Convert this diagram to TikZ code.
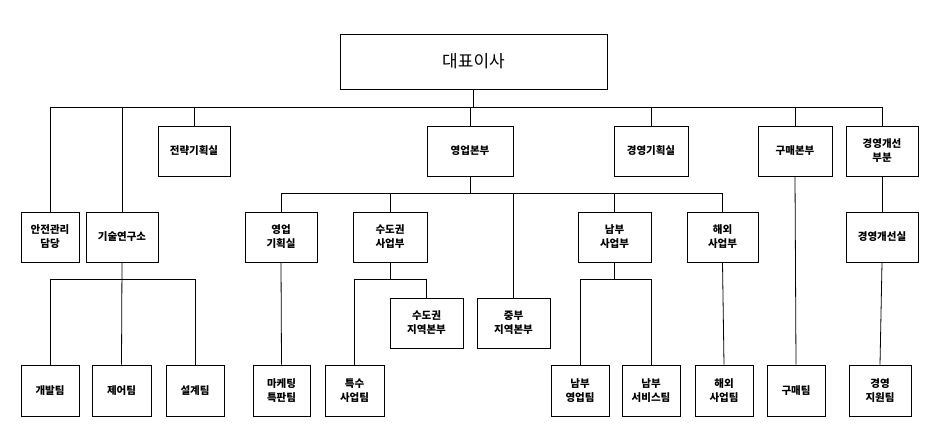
\documentclass[tikz,border=0pt]{standalone}
\usepackage{fontspec}
\setmainfont{Noto Sans CJK KR}
\usetikzlibrary{positioning,calc}
\tikzset{
  unit/.style={draw,thick,align=center,inner sep=1pt,font=\fontsize{10.5}{14}\selectfont\bfseries},
  mid/.style={unit,minimum width=72pt,minimum height=50pt},
  small/.style={unit,minimum width=58pt,minimum height=51pt},
  wire/.style={thick}
}
\begin{document}
\begin{tikzpicture}[x=1pt,y=-1pt]
\useasboundingbox (0,0) rectangle (926,425);
%---------------------------------------------------------------- top
\node[draw,thick,minimum width=267pt,minimum height=55pt,font=\fontsize{17}{20}\selectfont] (ceo) at (473.5,61.5) {대표이사};
\coordinate (topbar) at (0,107);
\coordinate (salesbar) at (0,193);
\coordinate (subbar) at (0,279);
%---------------------------------------------------------------- level 2
\node[mid,minimum width=72pt] (strategy) at (194,151) {전략기획실};
\node[mid,minimum width=86pt] (sales) at (470,151) {영업본부};
\node[mid,minimum width=74pt] (mgmtplan) at (651,151) {경영기획실};
\node[mid,minimum width=74pt] (purchase) at (795,151) {구매본부};
\node[mid] (improve) at (882,151) {경영개선\\부분};
%---------------------------------------------------------------- level 3
\node[unit,minimum width=58pt,minimum height=50pt] (safety) at (50,237) {안전관리\\담당};
\node[mid] (research) at (122,237) {기술연구소};
\node[mid] (salesplan) at (281,237) {영업\\기획실};
\node[mid,minimum width=74pt] (capital) at (390,237) {수도권\\사업부};
\node[mid,minimum width=73pt] (south) at (614.5,237) {남부\\사업부};
\node[mid,minimum width=71pt] (overseas) at (722.5,237) {해외\\사업부};
\node[mid] (improveoff) at (882,237) {경영개선실};
\node[mid,minimum width=73pt] (capregion) at (426.5,323) {수도권\\지역본부};
\node[mid,minimum width=73pt] (central) at (513.5,323) {중부\\지역본부};
%---------------------------------------------------------------- teams
\node[small] (dev) at (50,390.5) {개발팀};
\node[small,minimum width=59pt] (control) at (121.5,390.5) {제어팀};
\node[small] (design) at (195,390.5) {설계팀};
\node[small,minimum width=57pt] (marketing) at (281.5,390.5) {마케팅\\특판팀};
\node[small,minimum width=59pt] (special) at (354.5,390.5) {특수\\사업팀};
\node[small] (southsales) at (580,390.5) {남부\\영업팀};
\node[small] (southservice) at (651,390.5) {남부\\서비스팀};
\node[small] (overseasteam) at (724,390.5) {해외\\사업팀};
\node[small] (purchaseteam) at (796,390.5) {구매팀};
\node[small,minimum width=62pt] (support) at (880,390.5) {경영\\지원팀};
%---------------------------------------------------------------- wires
\draw[wire] (ceo.south) -- (ceo.south |- topbar);
\draw[wire] (safety.north) -- (safety.north |- topbar) -| (improve.north);
\foreach \n in {research,strategy,sales,mgmtplan,purchase}
  \draw[wire] (\n.north) -- (\n.north |- topbar);
\draw[wire] (sales.south) -- (sales.south |- salesbar);
\draw[wire] (salesplan.north) -- (salesplan.north |- salesbar) -| (overseas.north);
\draw[wire] (capital.north) -- (capital.north |- salesbar);
\draw[wire] (south.north) -- (south.north |- salesbar);
\draw[wire] (central.north) -- (central.north |- salesbar);
\draw[wire] (research.south) -- (control.north);
\draw[wire] (dev.north) -- (dev.north |- subbar) -| (design.north);
\draw[wire] (capital.south) -- (capital.south |- subbar);
\draw[wire] (special.north) -- (special.north |- subbar) -| (capregion.north);
\draw[wire] (south.south) -- (south.south |- subbar);
\draw[wire] (southsales.north) -- (southsales.north |- subbar) -| (southservice.north);
\draw[wire] (salesplan.south) -- (marketing.north);
\draw[wire] (overseas.south) -- (overseasteam.north);
\draw[wire] (purchase.south) -- (purchaseteam.north);
\draw[wire] (improve.south) -- (improveoff.north);
\draw[wire] (improveoff.south) -- (support.north);
\end{tikzpicture}
\end{document}
